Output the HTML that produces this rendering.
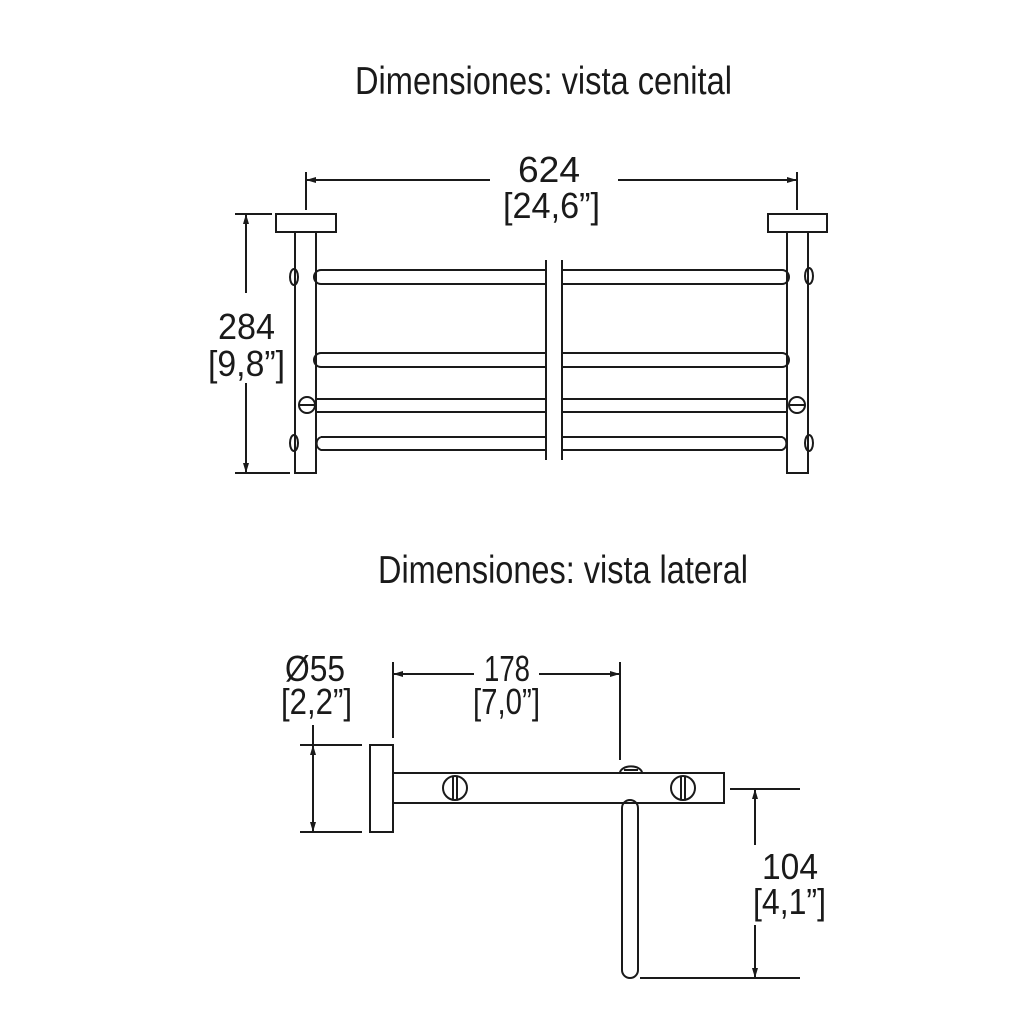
<!DOCTYPE html>
<html><head><meta charset="utf-8"><style>html,body{margin:0;padding:0;background:#fff}svg{display:block}</style></head>
<body>
<svg width="1024" height="1028" viewBox="0 0 1024 1028" xmlns="http://www.w3.org/2000/svg" font-family="Liberation Sans, sans-serif" fill="#1a1a1a">
<defs>
<marker id="a" markerWidth="10" markerHeight="6" refX="10" refY="3" orient="auto-start-reverse" markerUnits="userSpaceOnUse"><path d="M0,0 L10,3 L0,6 z" fill="#1a1a1a"/></marker>
</defs>
<g font-size="39">
<text x="355" y="94" textLength="377" lengthAdjust="spacingAndGlyphs">Dimensiones: vista cenital</text>
<text x="378" y="583" textLength="370" lengthAdjust="spacingAndGlyphs">Dimensiones: vista lateral</text>
</g>
<g font-size="36">
<text x="518" y="182" textLength="62" lengthAdjust="spacingAndGlyphs">624</text>
<text x="503" y="218" textLength="97" lengthAdjust="spacingAndGlyphs">[24,6”]</text>
<text x="218" y="339" textLength="57" lengthAdjust="spacingAndGlyphs">284</text>
<text x="208" y="376" textLength="77" lengthAdjust="spacingAndGlyphs">[9,8”]</text>
<text x="285" y="681" textLength="60" lengthAdjust="spacingAndGlyphs">Ø55</text>
<text x="281" y="714" textLength="71" lengthAdjust="spacingAndGlyphs">[2,2”]</text>
<text x="484" y="681" textLength="46" lengthAdjust="spacingAndGlyphs">178</text>
<text x="473" y="714" textLength="67" lengthAdjust="spacingAndGlyphs">[7,0”]</text>
<text x="762" y="879" textLength="56" lengthAdjust="spacingAndGlyphs">104</text>
<text x="753" y="914" textLength="73" lengthAdjust="spacingAndGlyphs">[4,1”]</text>
</g>
<g fill="none" stroke="#1a1a1a" stroke-width="2">
<line x1="306" y1="172" x2="306" y2="210"/><line x1="797" y1="172" x2="797" y2="210"/>
<line x1="306" y1="180" x2="490" y2="180" marker-start="url(#a)"/>
<line x1="618" y1="180" x2="797" y2="180" marker-end="url(#a)"/>
<line x1="235" y1="214" x2="272" y2="214"/><line x1="235" y1="473" x2="290" y2="473"/>
<line x1="246" y1="214" x2="246" y2="293" marker-start="url(#a)"/>
<line x1="246" y1="383" x2="246" y2="473" marker-end="url(#a)"/>
<rect x="276" y="214" width="60" height="18"/>
<rect x="295" y="232" width="21" height="241"/>
<rect x="768" y="214" width="59" height="18"/>
<rect x="787" y="232" width="21" height="241"/>
<g>
<path d="M321,270 H546 M546,284 H321 A7,7 0 0 1 321,270"/>
<path d="M321,353 H546 M546,367 H321 A7,7 0 0 1 321,353"/>
<path d="M316,399 H546 M546,412 H316"/>
<path d="M321,437 H546 M546,450 H321 A7,7 0 0 1 321,437"/>
<path d="M562,270 H782 A7,7 0 0 1 782,284 H562"/>
<path d="M562,353 H782 A7,7 0 0 1 782,367 H562"/>
<path d="M562,399 H787 M787,412 H562"/>
<path d="M562,437 H782 A7,7 0 0 1 782,450 H562"/>
</g>
<line x1="546" y1="260" x2="546" y2="460"/><line x1="562" y1="260" x2="562" y2="460"/>
<circle cx="307" cy="405" r="8"/><line x1="299" y1="405" x2="315" y2="405"/>
<circle cx="797" cy="405" r="8"/><line x1="789" y1="405" x2="805" y2="405"/>
<ellipse cx="294" cy="277" rx="4" ry="8"/><ellipse cx="294" cy="443" rx="4" ry="8"/>
<ellipse cx="809" cy="276" rx="4" ry="8"/><ellipse cx="809" cy="443" rx="4" ry="8"/>
<rect x="370" y="745" width="23" height="87"/>
<rect x="393" y="773" width="331" height="30"/>
<circle cx="455" cy="788" r="12"/><line x1="453" y1="776" x2="453" y2="800"/><line x1="457" y1="776" x2="457" y2="800"/>
<circle cx="683" cy="788" r="12"/><line x1="681" y1="776" x2="681" y2="800"/><line x1="685" y1="776" x2="685" y2="800"/>
<path d="M620,773 A10,6 0 0 1 642,773"/><line x1="624" y1="770" x2="638" y2="770"/>
<path d="M622,808 V970 A8,8 0 0 0 638,970 V808 A8,8 0 0 0 622,808"/>
<line x1="300" y1="745" x2="362" y2="745"/><line x1="300" y1="832" x2="362" y2="832"/>
<line x1="313" y1="725" x2="313" y2="832" marker-end="url(#a)"/>
<line x1="313" y1="745" x2="313" y2="800" marker-start="url(#a)"/>
<line x1="393" y1="662" x2="393" y2="738"/><line x1="620" y1="662" x2="620" y2="760"/>
<line x1="393" y1="674" x2="474" y2="674" marker-start="url(#a)"/>
<line x1="539" y1="674" x2="620" y2="674" marker-end="url(#a)"/>
<line x1="730" y1="789" x2="800" y2="789"/><line x1="640" y1="978" x2="800" y2="978"/>
<line x1="755" y1="789" x2="755" y2="845" marker-start="url(#a)"/>
<line x1="755" y1="925" x2="755" y2="978" marker-end="url(#a)"/>
</g>
</svg>
</body></html>
